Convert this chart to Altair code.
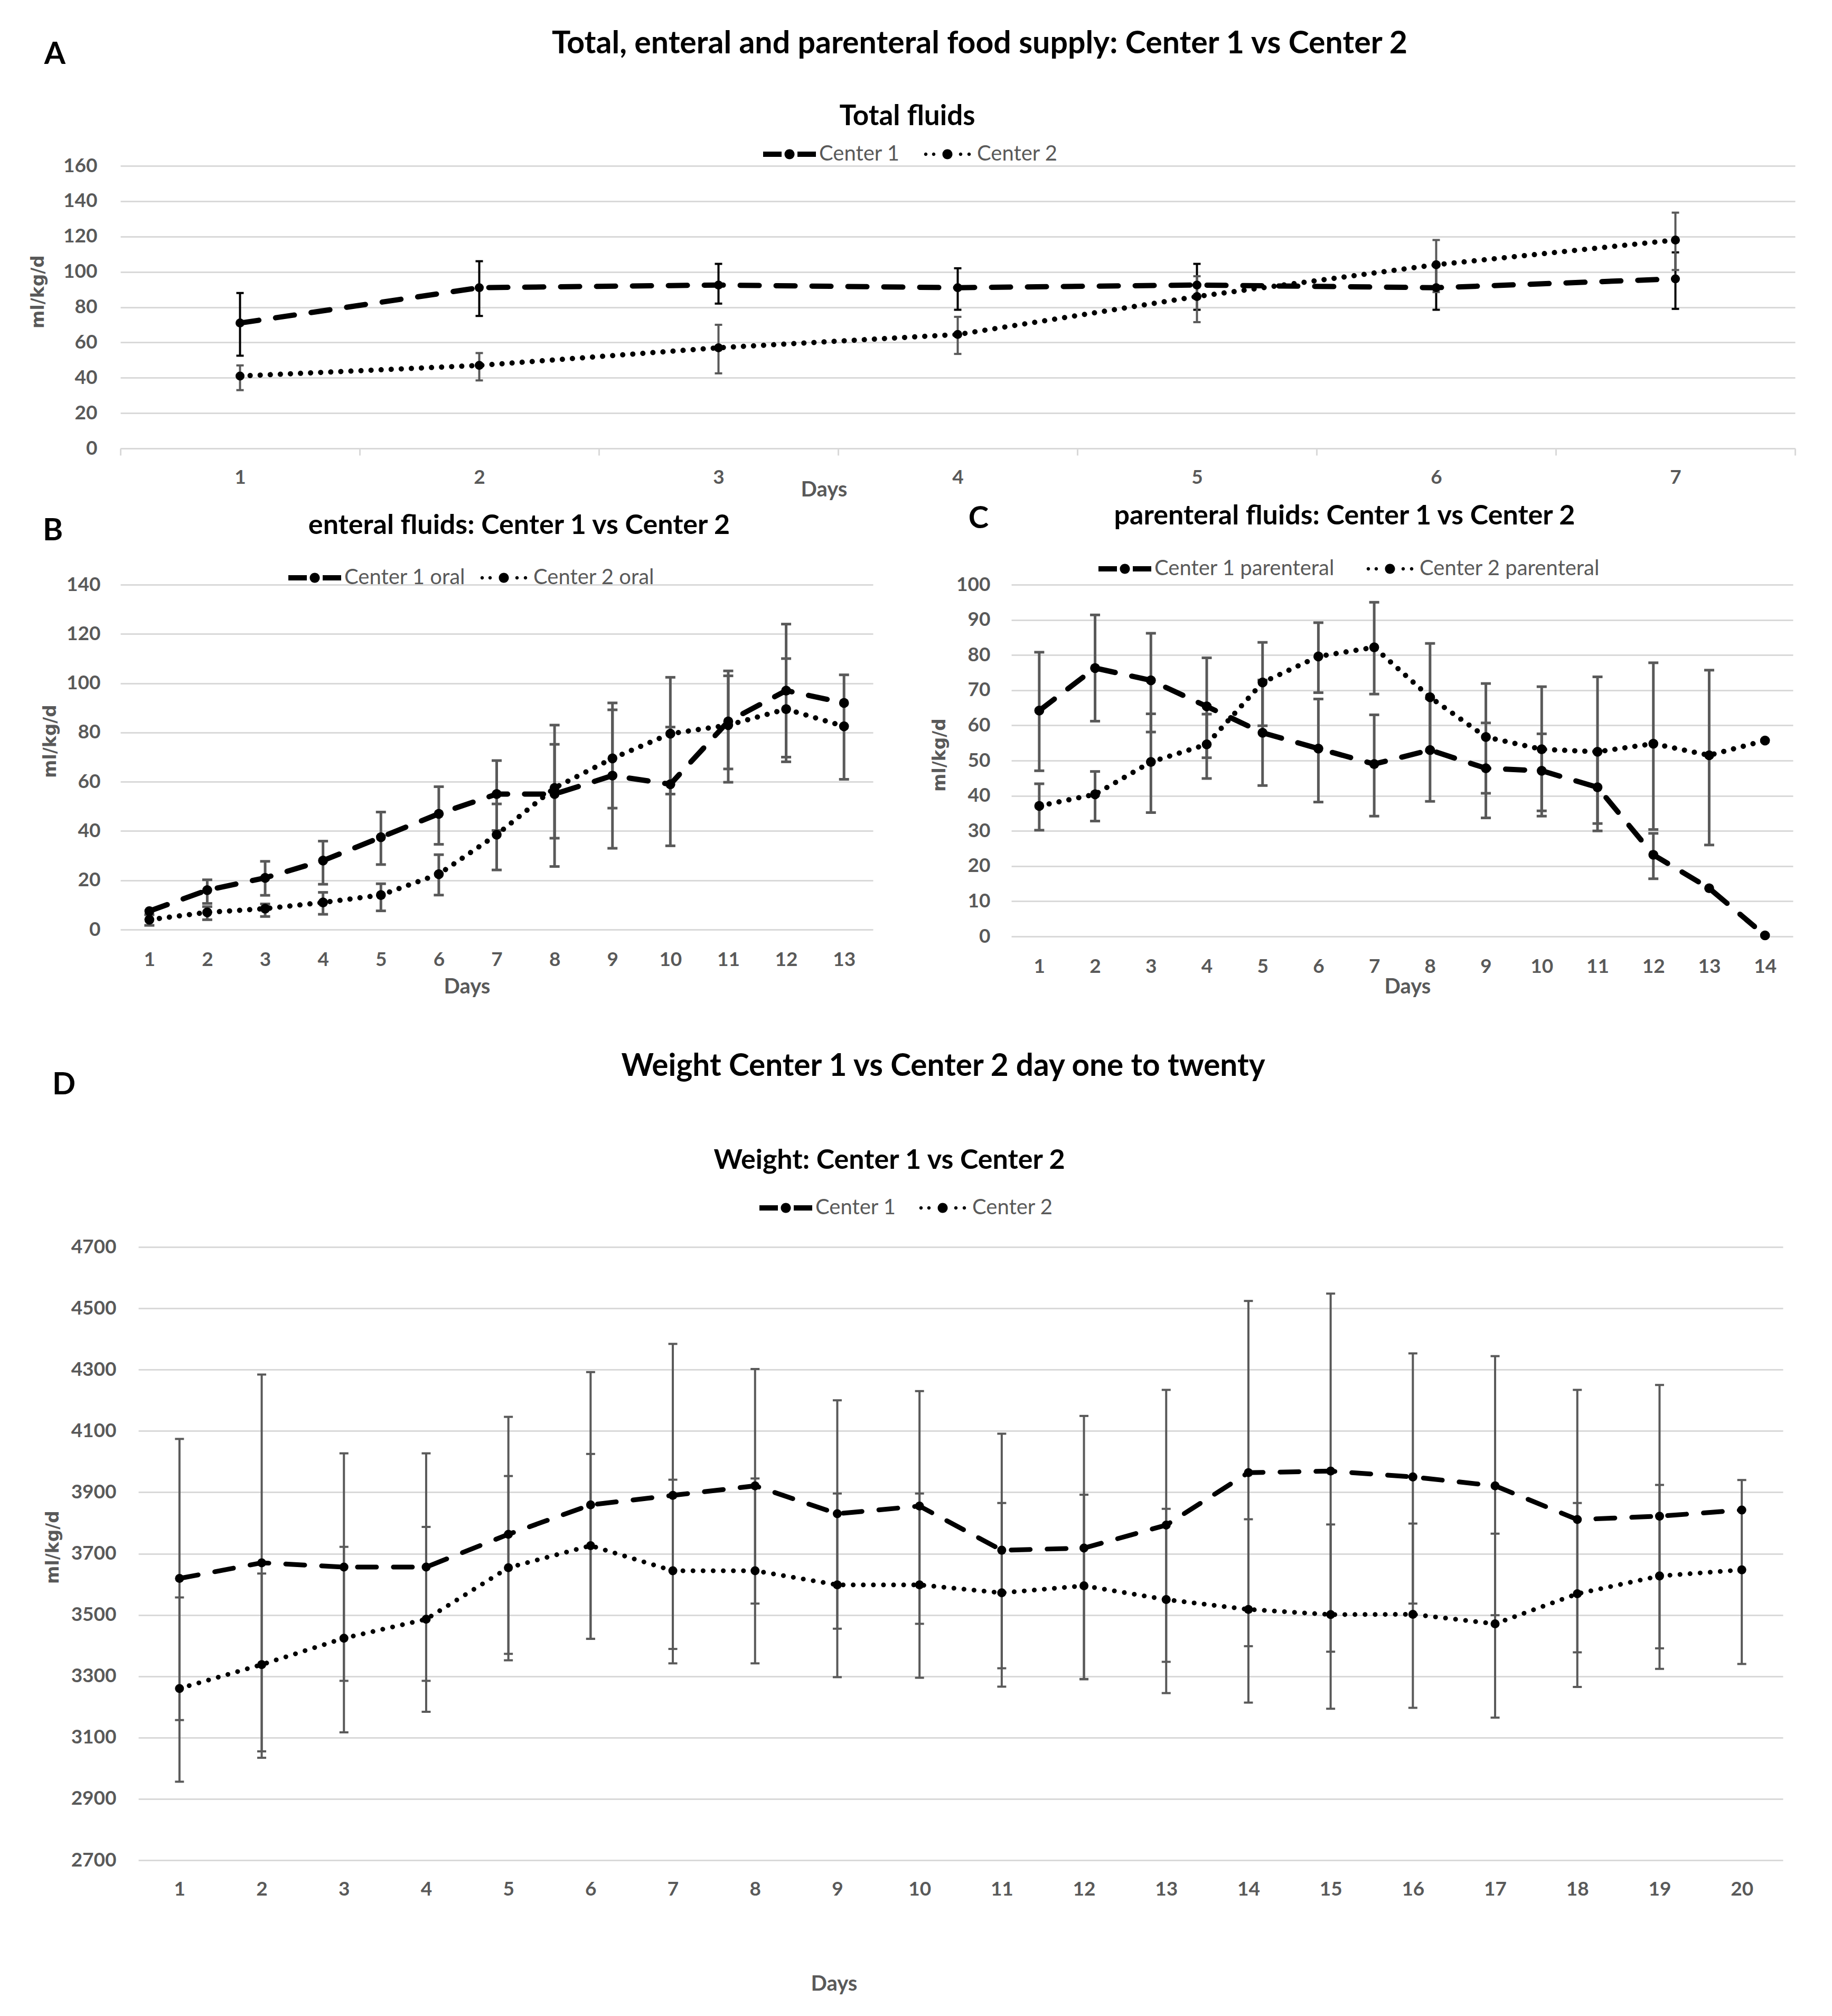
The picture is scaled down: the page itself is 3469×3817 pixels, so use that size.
import altair as alt
import pandas as pd

FONT = "Lato"
YFONT = "DejaVu Sans"
GRAY = "#595959"
GRID = "#d9d9d9"

# ---------------- texts ----------------
MAIN_TITLE = "Total, enteral and parenteral food supply: Center 1 vs Center 2"
A_TITLE = "Total fluids"
B_TITLE = "enteral fluids: Center 1 vs Center 2"
C_TITLE = "parenteral fluids: Center 1 vs Center 2"
D_MAIN = "Weight Center 1 vs Center 2 day one to twenty"
D_TITLE = "Weight: Center 1 vs Center 2"
Y_TITLE = "ml/kg/d"
X_TITLE = "Days"

# ---------------- panel A: total fluids ----------------
A_SERIES = ["Center 1", "Center 2"]
A_DAYS = [1, 2, 3, 4, 5, 6, 7]
A_C1 = [71, 91, 92.5, 91, 92.5, 91, 96]
A_C1_LO = [52.5, 75, 82, 78.5, 78.5, 78.5, 79]
A_C1_HI = [88, 106, 104.5, 102, 104.5, 104, 111]
A_C2 = [41, 47, 57, 64.5, 86, 104, 118]
A_C2_LO = [33, 38.5, 42.5, 53.5, 71.5, 88.5, 101]
A_C2_HI = [47, 54, 70, 74.5, 97.5, 118, 133.5]

# ---------------- panel B: enteral fluids ----------------
B_SERIES = ["Center 1 oral", "Center 2 oral"]
B_DAYS = list(range(1, 14))
B_C1 = [7.5, 16, 21, 28, 37.5, 47, 55, 55, 62.5, 59, 84.5, 97, 92]
B_C1_LO = [None, 10.6, 13.9, 18.4, 26.4, 34.6, 40.2, 25.6, 33, 34, 65.2, 70, None]
B_C1_HI = [None, 20.2, 27.7, 35.9, 47.7, 58, 68.6, 83, 92, 82.2, 105, 124, None]
B_C2 = [4, 7, 8.5, 11, 14, 22.5, 38.5, 57.5, 69.5, 79.5, 83, 89.5, 82.5]
B_C2_LO = [1.7, 4, 5.3, 6.2, 7.6, 14, 24.2, 37.1, 49.3, 55, 59.8, 68.1, 61]
B_C2_HI = [6, 9.3, 10.4, 15.1, 18.6, 30.4, 51, 75.2, 89.2, 102.4, 103, 110, 103.4]

# ---------------- panel C: parenteral fluids ----------------
C_SERIES = ["Center 1 parenteral", "Center 2 parenteral"]
C_DAYS = list(range(1, 15))
C_C1 = [64.2, 76.3, 72.8, 65.4, 57.9, 53.4, 49, 53, 47.8, 47.1, 42.4, 23.2, 13.7, 0.3]
C_C1_LO = [47.1, 61.2, 58.1, 50.8, 42.9, 38.2, 34.2, 38.4, 33.7, 34.2, 32.1, 16.4, None, None]
C_C1_HI = [80.8, 91.4, 86.2, 79.2, 72.9, 67.5, 63, 67.6, 60.7, 57.6, 52.7, 29.3, None, None]
C_C2 = [37.1, 40.4, 49.6, 54.6, 72.2, 79.6, 82.2, 68, 56.7, 53.2, 52.5, 54.8, 51.5, 55.7]
C_C2_LO = [30.2, 32.8, 35.2, 44.9, 59.9, 69.3, 68.9, 52.7, 40.7, 35.7, 30, 30.4, 26, None]
C_C2_HI = [43.4, 46.9, 63.3, 63.2, 83.6, 89.2, 95, 83.3, 71.9, 71, 73.8, 77.8, 75.7, None]

# ---------------- panel D: weight ----------------
D_SERIES = ["Center 1", "Center 2"]
D_DAYS = list(range(1, 21))
D_C1 = [3619, 3670, 3656, 3656, 3763, 3859, 3890, 3921, 3830, 3855,
        3711, 3718, 3793, 3964, 3969, 3950, 3921, 3811, 3822, 3842]
D_C1_LO = [3157, 3055, 3285, 3285, 3373, 3422, 3389, 3537, 3455, 3471,
           3326, 3291, 3347, 3398, 3380, 3537, 3499, 3378, 3391, None]
D_C1_HI = [4074, 4284, 4027, 4027, 4146, 4292, 4384, 4302, 4200, 4230,
           4091, 4149, 4234, 4524, 4548, 4353, 4344, 4234, 4250, None]
D_C2 = [3260, 3338, 3424, 3486, 3654, 3726, 3644, 3644, 3598, 3598,
        3572, 3595, 3550, 3518, 3501, 3502, 3471, 3569, 3627, 3647]
D_C2_LO = [2956, 3034, 3117, 3184, 3352, 3422, 3342, 3342, 3297, 3295,
           3266, 3290, 3245, 3214, 3194, 3197, 3165, 3265, 3324, 3340]
D_C2_HI = [3557, 3635, 3722, 3787, 3953, 4025, 3941, 3945, 3896, 3896,
           3865, 3892, 3846, 3812, 3795, 3798, 3765, 3865, 3924, 3940]

# legend symbols: dash-marker-dash and dot-marker-dot (unit path, scaled by symbolSize)
def _circ(cx, r):
    return f"M{cx - r},0A{r},{r} 0 1,0 {cx + r},0A{r},{r} 0 1,0 {cx - r},0Z"

SYM_DASH = "M-1,-0.1H-0.3V0.1H-1Z " + _circ(0, 0.19) + " M0.3,-0.1H1V0.1H0.3Z"
SYM_DOT = " ".join([_circ(-0.82, 0.065), _circ(-0.52, 0.065), _circ(0, 0.19),
                    _circ(0.5, 0.065), _circ(0.82, 0.065)])

DASH = [36, 32]
DOT = [0.1, 19]


def make_df(days, names, c1, c1lo, c1hi, c2, c2lo, c2hi):
    rows = []
    for name, v, lo, hi in ((names[0], c1, c1lo, c1hi), (names[1], c2, c2lo, c2hi)):
        for d, a, l, h in zip(days, v, lo, hi):
            rows.append({"day": d, "series": name, "v": a, "lo": l, "hi": h})
    return pd.DataFrame(rows)


def text_layer(txt, x, y, size, weight="bold", color="black"):
    return alt.Chart(alt.Data(values=[{"t": txt}])).mark_text(
        font=FONT, fontSize=size, fontWeight=weight, color=color,
        align="center", baseline="alphabetic"
    ).encode(x=alt.value(x), y=alt.value(y), text="t:N")


def panel(df, names, cfg):
    xs = alt.Scale(type="band", paddingInner=0, paddingOuter=0)
    xaxis = alt.Axis(
        title=X_TITLE, titleFont=FONT, titleFontSize=40, titleFontWeight="bold",
        titleColor=GRAY, titleX=cfg["days_x"], titleY=cfg["days_y"],
        titleAlign="center", titleBaseline="middle",
        labelAngle=0, labelFont=FONT, labelFontSize=37, labelFontWeight="bold",
        labelColor=GRAY, labelPadding=cfg["xlp"], labelBaseline="middle",
        grid=False, domain=cfg["xticks"], domainColor=GRID, domainWidth=3,
        ticks=cfg["xticks"], tickBand="extent", tickColor=GRID, tickWidth=3,
        tickSize=13 if cfg["xticks"] else 0,
    )
    X = alt.X("day:O", scale=xs, axis=xaxis)
    ys = alt.Scale(domain=cfg["ydom"], nice=False, zero=False)
    yaxis = alt.Axis(
        values=cfg["yvals"], format="d",
        title=Y_TITLE, titleFont=YFONT, titleFontSize=33, titleFontWeight="bold",
        titleColor=GRAY, titleAngle=270, titleX=cfg["yt_x"], titleY=cfg["yt_y"],
        titleAlign="center", titleBaseline="middle",
        labelFont=FONT, labelFontSize=37, labelFontWeight="bold", labelColor=GRAY,
        labelPadding=cfg["ylp"], ticks=False, tickSize=0, domain=False,
        grid=True, gridColor=GRID, gridWidth=3,
    )

    def Y(f):
        return alt.Y(f, type="quantitative", scale=ys, axis=yaxis)

    base = alt.Chart(df).encode(x=X)
    layers = []
    for name, ecol in zip(names, cfg["ecol"]):
        d = base.transform_filter(alt.datum.series == name)
        layers.append(d.mark_rule(color=ecol, strokeWidth=cfg["ew"]).encode(y=Y("lo"), y2="hi:Q"))
        layers.append(d.mark_tick(color=ecol, size=cfg["cw"], thickness=cfg["ct"], opacity=1).encode(y=Y("lo")))
        layers.append(d.mark_tick(color=ecol, size=cfg["cw"], thickness=cfg["ct"], opacity=1).encode(y=Y("hi")))
    for name, dash in zip(names, [DASH, DOT]):
        d = base.transform_filter(alt.datum.series == name)
        layers.append(d.mark_line(color="black", strokeWidth=cfg["lw"], strokeDash=dash,
                                  strokeCap="round").encode(y=Y("v")))
    layers.append(base.mark_circle(color="black", size=cfg["ps"], opacity=1).encode(y=Y("v")))
    layers.append(base.mark_point(color="black", opacity=0, filled=True, size=1).encode(
        y=Y("v"),
        shape=alt.Shape("series:N", scale=alt.Scale(domain=names, range=[SYM_DASH, SYM_DOT]),
                        legend=alt.Legend(
                            orient="none", legendX=cfg["lx"], legendY=cfg["ly"],
                            direction="horizontal", title=None, padding=0,
                            symbolSize=10000, symbolFillColor="black", symbolStrokeWidth=0,
                            symbolOpacity=1, symbolOffset=0,
                            labelFont=FONT, labelFontSize=cfg["lfs"], labelColor=GRAY,
                            labelLimit=0, labelOffset=6, columnPadding=cfg["lcp"],
                        )),
    ))
    for t in cfg["texts"]:
        layers.append(text_layer(*t))
    return alt.layer(*layers).properties(width=cfg["w"], height=cfg["h"])


A = panel(make_df(A_DAYS, A_SERIES, A_C1, A_C1_LO, A_C1_HI, A_C2, A_C2_LO, A_C2_HI), A_SERIES, dict(
    w=3171, h=535, ydom=[0, 160], yvals=list(range(0, 161, 20)),
    xticks=True, xlp=42, days_x=1332, days_y=78, yt_x=-156, yt_y=238, ylp=44,
    ecol=["black", GRAY], ew=4, cw=14, ct=4, lw=10, ps=290,
    lx=1217, ly=-72, lfs=40, lcp=40,
    texts=[("A", -124, -193, 58), (MAIN_TITLE, 1627, -213, 59), (A_TITLE, 1490, -77, 53)],
))

B = panel(make_df(B_DAYS, B_SERIES, B_C1, B_C1_LO, B_C1_HI, B_C2, B_C2_LO, B_C2_HI), B_SERIES, dict(
    w=1425, h=653, ydom=[0, 140], yvals=list(range(0, 141, 20)),
    xticks=False, xlp=57, days_x=656, days_y=108, yt_x=-133, yt_y=296, ylp=38,
    ecol=[GRAY, GRAY], ew=5, cw=19, ct=5, lw=10, ps=350,
    lx=318, ly=-63, lfs=40, lcp=22,
    texts=[("B", -128, -84, 58), (B_TITLE, 755, -96, 52)],
))

C = panel(make_df(C_DAYS, C_SERIES, C_C1, C_C1_LO, C_C1_HI, C_C2, C_C2_LO, C_C2_HI), C_SERIES, dict(
    w=1480, h=666, ydom=[0, 100], yvals=list(range(0, 101, 10)),
    xticks=False, xlp=57, days_x=750, days_y=95, yt_x=-136, yt_y=322, ylp=40,
    ecol=[GRAY, GRAY], ew=5, cw=19, ct=5, lw=10, ps=350,
    lx=165, ly=-80, lfs=40, lcp=54,
    texts=[("C", -62, -107, 58), (C_TITLE, 631, -114, 52)],
))

D = panel(make_df(D_DAYS, D_SERIES, D_C1, D_C1_LO, D_C1_HI, D_C2, D_C2_LO, D_C2_HI), D_SERIES, dict(
    w=3114, h=1161, ydom=[2700, 4700], yvals=list(range(2700, 4701, 200)),
    xticks=False, xlp=55, days_x=1317, days_y=234, yt_x=-162, yt_y=568, ylp=42,
    ecol=[GRAY, GRAY], ew=4, cw=17, ct=4, lw=9, ps=290,
    lx=1176, ly=-124, lfs=40, lcp=38,
    texts=[("D", -141, -289, 58), (D_MAIN, 1524, -324, 58.5), (D_TITLE, 1422, -148, 52)],
))

spacer = alt.Chart(alt.Data(values=[{"s": 0}])).mark_point(opacity=0).encode(
    x=alt.value(0), y=alt.value(0)).properties(width=34, height=1161)


def indep(c):
    return c.resolve_scale(x="independent", y="independent", shape="independent") \
            .resolve_axis(x="independent", y="independent") \
            .resolve_legend(shape="independent")


# with flush bounds a nested concat counts as zero-sized, so the outer spacing
# is measured from the top of panel A to the top of panel D
row_bc = indep(alt.hconcat(B, C, spacing=262, bounds="flush"))
top = indep(alt.vconcat(A, row_bc, spacing=258, bounds="flush"))
row_d = indep(alt.hconcat(spacer, D, spacing=0, bounds="flush"))
chart = indep(alt.vconcat(top, row_d, spacing=2047, bounds="flush")).properties(
    padding={"left": 48, "top": 46, "right": 10, "bottom": 10},
    background="white",
).configure_view(stroke=None)

chart.save("out.html", embed_options={"renderer": "svg", "actions": False})
